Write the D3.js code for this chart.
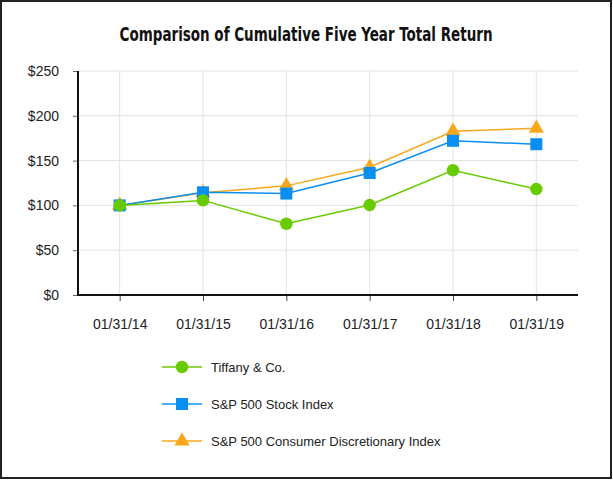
<!DOCTYPE html>
<html>
<head>
<meta charset="utf-8">
<script src="https://cdn.jsdelivr.net/npm/d3@7"></script>
<style>
  body { margin: 0; background: #fff; }
  svg { display: block; }
</style>
</head>
<body>
<svg id="chart" width="613" height="480"></svg>
<script>
// data
var dates = ["01/31/14", "01/31/15", "01/31/16", "01/31/17", "01/31/18", "01/31/19"];
var tiffany = [100, 105.6, 79.5, 100.4, 139.2, 118.2];
var sp500 = [100, 114.6, 113.2, 136.2, 172.1, 168.3];
var spConsumer = [100, 114.0, 121.8, 142.6, 182.8, 186.0];
var yTicks = [0, 50, 100, 150, 200, 250];

var series = [
  { name: "Tiffany & Co.", values: tiffany, color: "#66cc00", shape: "circle" },
  { name: "S&P 500 Stock Index", values: sp500, color: "#0a8ff0", shape: "square" },
  { name: "S&P 500 Consumer Discretionary Index", values: spConsumer, color: "#f8a81c", shape: "triangle" }
];

var svg = d3.select("#chart");
var plotLeft = 78, plotRight = 578, plotTop = 71, plotBottom = 295;
var labelFont = "'Liberation Sans', Arial, sans-serif";

// frame
svg.append("rect").attr("x", 1).attr("y", 1).attr("width", 610).attr("height", 477)
  .attr("fill", "#fff").attr("stroke", "#222").attr("stroke-width", 2);

svg.append("text").attr("x", 306).attr("y", 41).attr("text-anchor", "middle")
  .style("font-family", "'DejaVu Sans Condensed', 'Liberation Sans Narrow', sans-serif")
  .style("font-weight", "bold").style("font-size", "20px").attr("fill", "#111")
  .attr("textLength", 373).attr("lengthAdjust", "spacingAndGlyphs")
  .text("Comparison of Cumulative Five Year Total Return");

var x = d3.scalePoint().domain(dates).range([plotLeft, plotRight]).padding(0.5);
var y = d3.scaleLinear().domain([0, 250]).range([plotBottom, plotTop]);

// gridlines
svg.append("g").selectAll("line").data(yTicks.slice(1)).join("line")
  .attr("x1", plotLeft).attr("x2", plotRight)
  .attr("y1", function(d){ return y(d); }).attr("y2", function(d){ return y(d); })
  .attr("stroke", "#e2e2e2").attr("stroke-width", 1);
svg.append("g").selectAll("line").data(dates).join("line")
  .attr("x1", function(d){ return x(d); }).attr("x2", function(d){ return x(d); })
  .attr("y1", plotTop).attr("y2", plotBottom)
  .attr("stroke", "#e2e2e2").attr("stroke-width", 1);

// axes
var yAxis = svg.append("g").attr("transform", "translate(" + plotLeft + ",0)")
  .call(d3.axisLeft(y).tickValues(yTicks).tickSize(5).tickPadding(14).tickFormat(function(d){ return "$" + d; }));
yAxis.select(".domain").remove();
yAxis.selectAll(".tick line").attr("stroke", "#666");
yAxis.selectAll("text").style("font-family", labelFont).style("font-size", "14px").attr("fill", "#222");

var xAxis = svg.append("g").attr("transform", "translate(0," + plotBottom + ")")
  .call(d3.axisBottom(x).tickSize(6).tickPadding(18));
xAxis.select(".domain").remove();
xAxis.selectAll(".tick line").attr("stroke", "#444");
xAxis.selectAll("text").style("font-family", labelFont).style("font-size", "14px").attr("fill", "#222");

svg.append("line").attr("x1", plotLeft).attr("x2", plotLeft).attr("y1", plotTop).attr("y2", plotBottom + 1)
  .attr("stroke", "#111").attr("stroke-width", 2);
svg.append("line").attr("x1", plotLeft - 1).attr("x2", plotRight).attr("y1", plotBottom).attr("y2", plotBottom)
  .attr("stroke", "#111").attr("stroke-width", 2);

function marker(g, shape, color, size) {
  if (shape == "circle") {
    g.append("circle").attr("r", size * 0.52).attr("fill", color);
  } else if (shape == "square") {
    g.append("rect").attr("x", -size / 2).attr("y", -size / 2).attr("width", size).attr("height", size).attr("fill", color);
  } else {
    g.append("path").attr("d", d3.symbol().type(d3.symbolTriangle).size(size * size * 0.7)()).attr("fill", color);
  }
}

var line = d3.line().x(function(d, i){ return x(dates[i]); }).y(function(d){ return y(d); });

// draw back to front: consumer, s&p, tiffany
series.slice().reverse().forEach(function(s) {
  svg.append("path").datum(s.values).attr("d", line)
    .attr("fill", "none").attr("stroke", s.color).attr("stroke-width", 1.5);
  s.values.forEach(function(v, i) {
    var g = svg.append("g").attr("transform", "translate(" + x(dates[i]) + "," + y(v) + ")");
    marker(g, s.shape, s.color, 12);
  });
});

// legend
series.forEach(function(s, i) {
  var ly = 367 + i * 37;
  svg.append("line").attr("x1", 162).attr("x2", 202).attr("y1", ly).attr("y2", ly)
    .attr("stroke", s.color).attr("stroke-width", 1.5);
  var g = svg.append("g").attr("transform", "translate(182," + ly + ")");
  marker(g, s.shape, s.color, 12);
  svg.append("text").attr("x", 211).attr("y", ly + 5)
    .style("font-family", labelFont).style("font-size", "13px").attr("fill", "#222")
    .text(s.name);
});
</script>
</body>
</html>
